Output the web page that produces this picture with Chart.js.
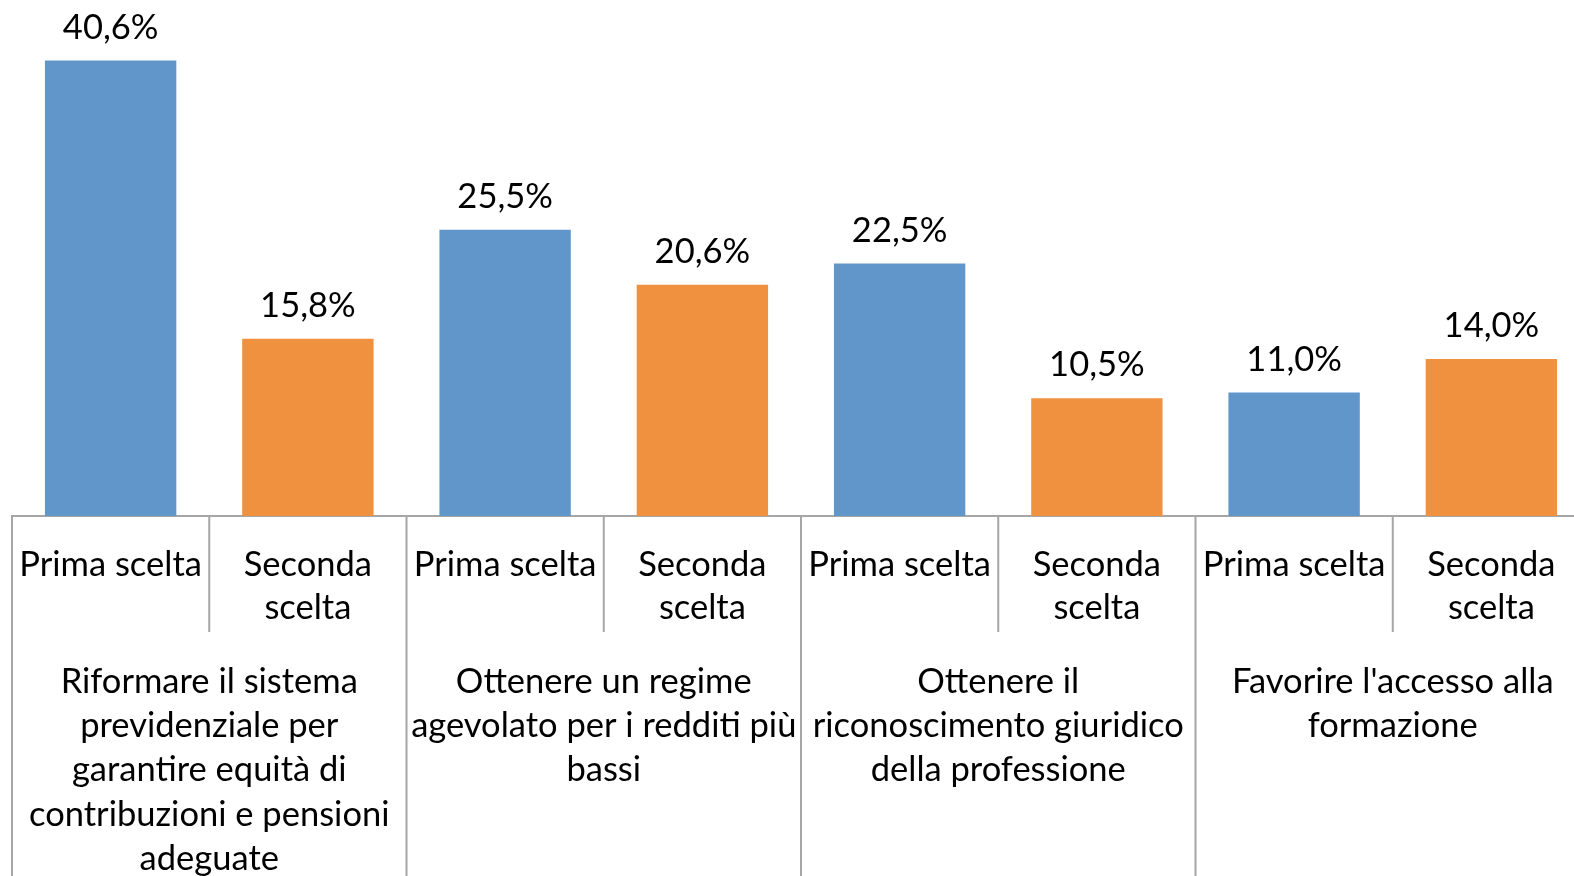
<!DOCTYPE html>
<html>
<head>
<meta charset="utf-8">
<script src="https://cdn.jsdelivr.net/npm/chart.js@4/dist/chart.umd.min.js"></script>
<style>
  html, body { margin: 0; padding: 0; background: #fff; overflow: hidden; }
  #wrap { width: 1574px; height: 876px; overflow: hidden; position: relative; }
  canvas { position: absolute; left: 0; top: 0; }
</style>
</head>
<body>
<div id="wrap"><canvas id="chart" width="1600" height="960"></canvas></div>
<script>
// data
const choices = ["Prima scelta", "Seconda scelta", "Prima scelta", "Seconda scelta",
                 "Prima scelta", "Seconda scelta", "Prima scelta", "Seconda scelta"];
const choiceLines = [["Prima scelta"], ["Seconda", "scelta"]];
const groups = [
  ["Riformare il sistema", "previdenziale per", "garantire equità di", "contribuzioni e pensioni", "adeguate"],
  ["Ottenere un regime", "agevolato per i redditi più", "bassi"],
  ["Ottenere il", "riconoscimento giuridico", "della professione"],
  ["Favorire l'accesso alla", "formazione"]
];
const values = [40.6, 15.8, 25.5, 20.6, 22.5, 10.5, 11.0, 14.0];

const BLUE = '#6096c9';
const ORANGE = '#f0913f';
const AXIS = '#a6a6a6';
const FONT = '34.5px Lato, "Open Sans", sans-serif';

const fmt = v => v.toFixed(1).replace('.', ',') + '%';

const labelsPlugin = {
  id: 'labels',
  afterDraw(chart) {
    const ctx = chart.ctx;
    const x = chart.scales.x;
    const area = chart.chartArea;
    const base = area.bottom;
    ctx.save();

    // separator lines between categories
    ctx.strokeStyle = AXIS;
    ctx.lineWidth = 2;
    for (let i = 0; i <= choices.length; i++) {
      let px;
      if (i === 0) px = area.left;
      else if (i === choices.length) px = area.right;
      else px = (x.getPixelForValue(i - 1) + x.getPixelForValue(i)) / 2;
      const end = i % 2 === 0 ? chart.height : base + 116;
      ctx.beginPath();
      ctx.moveTo(px, base);
      ctx.lineTo(px, end);
      ctx.stroke();
    }

    ctx.fillStyle = '#000';
    ctx.font = FONT;
    ctx.textAlign = 'center';
    ctx.textBaseline = 'middle';

    // value labels
    const meta = chart.getDatasetMeta(0);
    meta.data.forEach((bar, i) => {
      ctx.fillText(fmt(values[i]), bar.x, bar.y - 33);
    });

    // first level: choice
    choices.forEach((c, i) => {
      const lines = choiceLines[i % 2];
      lines.forEach((ln, j) => {
        ctx.fillText(ln, x.getPixelForValue(i), base + 49 + j * 43);
      });
    });

    // second level: groups
    groups.forEach((g, gi) => {
      const cx = (x.getPixelForValue(gi * 2) + x.getPixelForValue(gi * 2 + 1)) / 2;
      g.forEach((ln, j) => {
        ctx.fillText(ln, cx, base + 165.5 + j * 44.4);
      });
    });
    ctx.restore();
  }
};

new Chart(document.getElementById('chart'), {
  type: 'bar',
  data: {
    labels: choices,
    datasets: [{
      data: values,
      backgroundColor: values.map((v, i) => i % 2 === 0 ? BLUE : ORANGE),
      borderWidth: 0,
      barPercentage: 0.666,
      categoryPercentage: 1
    }]
  },
  options: {
    responsive: false,
    animation: false,
    layout: { padding: { left: 12, right: 10, top: 11, bottom: 0 } },
    plugins: { legend: { display: false }, tooltip: { enabled: false } },
    scales: {
      x: {
        grid: { display: false },
        border: { display: true, color: AXIS, width: 2 },
        ticks: { display: false },
        afterFit(scale) { scale.height = 960 - 516; }
      },
      y: {
        display: false,
        min: 0,
        max: 45
      }
    }
  },
  plugins: [labelsPlugin]
});
</script>
</body>
</html>
